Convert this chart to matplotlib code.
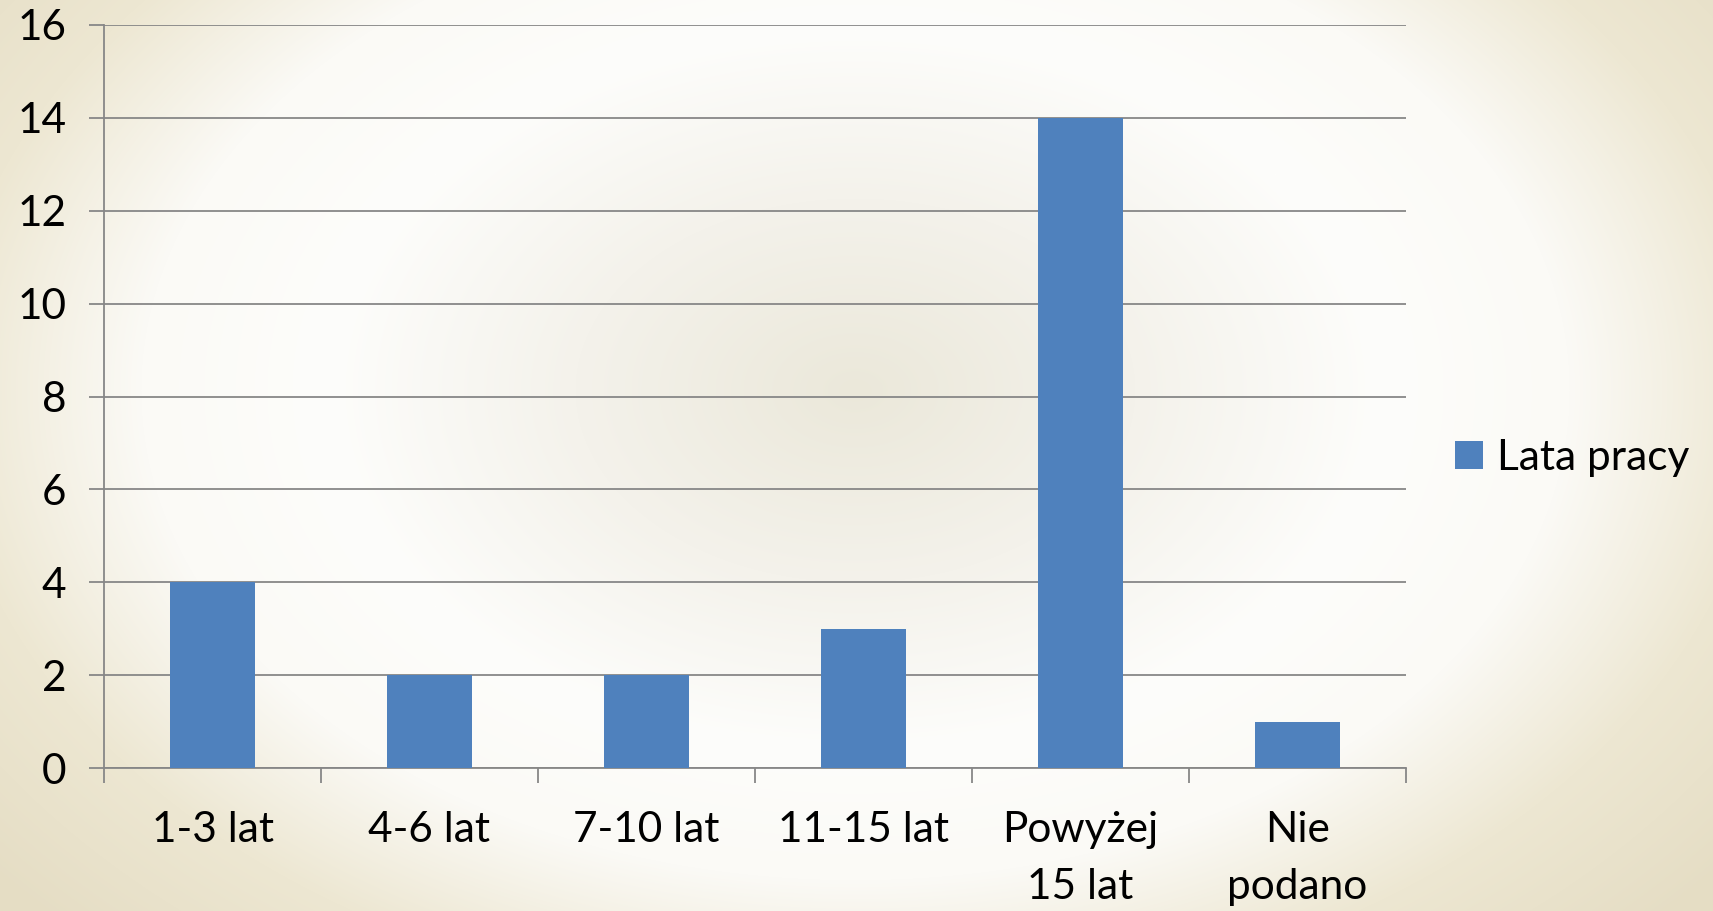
import numpy as np
import matplotlib.pyplot as plt

categories = ['1-3 lat', '4-6 lat', '7-10 lat', '11-15 lat', 'Powyżej\n15 lat', 'Nie\npodano']
values = [4, 2, 2, 3, 14, 1]
series_name = 'Lata pracy'
y_ticks = [0, 2, 4, 6, 8, 10, 12, 14, 16]

W, H = 1713, 911
plt.rcParams['font.family'] = ['Lato', 'DejaVu Sans']

fig = plt.figure(figsize=(W / 100, H / 100), dpi=100)

# slide background: elliptical radial gradient (tan centre, white ring, tan edges)
bg = fig.add_axes([0, 0, 1, 1], zorder=-10)
yy, xx = np.mgrid[0:H, 0:W]
r = np.sqrt(((xx - 855) / 700) ** 2 + ((yy - 390) / 480) ** 2)
stops = [0.0, 0.4, 0.75, 1.02, 1.3, 1.6]
cols = np.array([(235, 232, 218), (244, 242, 235), (253, 253, 251),
                 (251, 250, 246), (237, 231, 210), (229, 221, 196)]) / 255
img = np.dstack([np.interp(r, stops, cols[:, k]) for k in range(3)])
bg.imshow(img, aspect='auto', extent=[0, 1, 0, 1])
bg.axis('off')

ax = fig.add_axes([104 / W, 1 - 768 / H, (1406 - 104) / W, (768 - 25) / H])
ax.patch.set_alpha(0)

x = np.arange(len(categories))
ax.bar(x, values, width=0.39, color='#4f81bd', zorder=3, label=series_name)

ax.set_ylim(0, 16)
ax.set_yticks(y_ticks)
ax.set_xlim(-0.5, len(categories) - 0.5)
ax.set_xticks(np.arange(len(categories) + 1) - 0.5)
ax.set_xticklabels([])
ax.set_xticks(x, minor=True)
ax.set_xticklabels(categories, minor=True, linespacing=1.62)

grid_col = '#878787'
ax.yaxis.grid(True, color=grid_col, lw=1.3, zorder=1)
for s in ['top', 'right']:
    ax.spines[s].set_visible(False)
for s in ['left', 'bottom']:
    ax.spines[s].set_color(grid_col)
    ax.spines[s].set_linewidth(1.3)

ax.tick_params(axis='y', which='major', length=11, width=1.3, color=grid_col,
               labelsize=30.5, pad=16)
ax.tick_params(axis='x', which='major', length=11, width=1.3, color=grid_col)
ax.tick_params(axis='x', which='minor', length=0, labelsize=30.5, pad=31)

ax.legend(loc='center left', bbox_to_anchor=(1455 / W, 1 - 458 / H),
          bbox_transform=fig.transFigure, frameon=False, fontsize=30.5,
          handlelength=0.65, handleheight=0.65, handletextpad=0.35,
          borderpad=0, borderaxespad=0)

fig.savefig('out.png', dpi=100)
